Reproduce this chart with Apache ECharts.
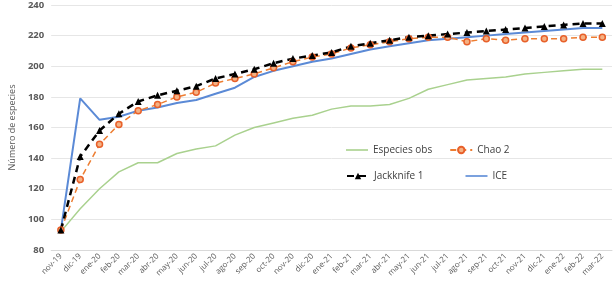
<!DOCTYPE html>
<html>
<head>
<meta charset="utf-8">
<script src="https://cdn.jsdelivr.net/npm/echarts@6/dist/echarts.min.js"></script>
<style>
html,body{margin:0;padding:0;background:#fff;}
#chart{width:616px;height:287px;}
</style>
</head>
<body>
<div id="chart"></div>
<script>
var months = ['nov-19','dic-19','ene-20','feb-20','mar-20','abr-20','may-20','jun-20','jul-20','ago-20',
    'sep-20','oct-20','nov-20','dic-20','ene-21','feb-21','mar-21','abr-21','may-21','jun-21',
    'jul-21','ago-21','sep-21','oct-21','nov-21','dic-21','ene-22','feb-22','mar-22'];

var especiesObs = [92,107,120,131,137,137,143,146,148,155,160,163,166,168,172,174,174,175,179,185,188,191,192,193,195,196,197,198,198];
var chao2 = [93,126,149,162,171,175,180,183,189,192,195,199,203,206,208,212,214,216,218,219,219,216,218,217,218,218,218,219,219];
var jackknife1 = [93,141,158,169,177,181,184,187,192,195,198,202,205,207,209,213,215,217,219,220,221,222,223,224,225,226,227,228,228];
var ice = [93,179,165,167,171,173,176,178,182,186,193,197,200,203,205,208,211,213,215,217,218,219,220,221,222,223,224,225,225];

var lineIcon = 'path://M0,0L22,0L22,1.6L0,1.6Z';

var chart = echarts.init(document.getElementById('chart'));
chart.setOption({
    animation: false,
    grid: {
        left: 36,
        right: 4,
        top: 5,
        bottom: 37
    },
    legend: [
        {
            left: 341, top: 140,
            itemWidth: 22, itemHeight: 8, itemGap: 17,
            textStyle: {fontSize: 10, color: '#404040', fontFamily: 'Open Sans'},
            data: [{name: 'Especies obs', icon: lineIcon}, 'Chao 2']
        },
        {
            left: 341, top: 166,
            itemWidth: 22, itemHeight: 8, itemGap: 42,
            textStyle: {fontSize: 10, color: '#404040', fontFamily: 'Open Sans'},
            data: ['Jackknife 1', {name: 'ICE', icon: lineIcon}]
        }
    ],
    xAxis: {
        type: 'category',
        data: months,
        boundaryGap: true,
        axisLine: {lineStyle: {color: '#d9d9d9'}},
        axisTick: {show: false},
        axisLabel: {
            interval: 0,
            rotate: 45,
            fontSize: 8,
            color: '#595959',
            fontFamily: 'Open Sans',
            margin: 5
        }
    },
    yAxis: {
        type: 'value',
        min: 80,
        max: 240,
        interval: 20,
        name: 'Número de especies',
        nameLocation: 'middle',
        nameGap: 25,
        nameTextStyle: {fontSize: 9, color: '#595959', fontFamily: 'Open Sans'},
        axisLine: {show: false},
        axisTick: {show: false},
        axisLabel: {fontSize: 9.5, color: '#595959', fontFamily: 'Open Sans', fontWeight: 'bold', margin: 7},
        splitLine: {lineStyle: {color: '#e6e6e6'}}
    },
    series: [
        {
            name: 'Especies obs',
            type: 'line',
            data: especiesObs,
            symbol: 'none',
            itemStyle: {color: '#a9d18e'},
            lineStyle: {color: '#a9d18e', width: 1.5}
        },
        {
            name: 'ICE',
            type: 'line',
            data: ice,
            symbol: 'none',
            itemStyle: {color: '#5b8ad6'},
            lineStyle: {color: '#5b8ad6', width: 2}
        },
        {
            name: 'Chao 2',
            type: 'line',
            data: chao2,
            symbol: 'circle',
            symbolSize: 6,
            itemStyle: {color: '#f4b183', borderColor: '#e8602a', borderWidth: 1.5},
            lineStyle: {color: '#ed7d31', width: 1.5, type: [6, 4]}
        },
        {
            name: 'Jackknife 1',
            type: 'line',
            data: jackknife1,
            symbol: 'triangle',
            symbolSize: 7,
            itemStyle: {color: '#000000'},
            lineStyle: {color: '#000000', width: 2.5, type: [7, 5]}
        }
    ]
});
</script>
</body>
</html>
